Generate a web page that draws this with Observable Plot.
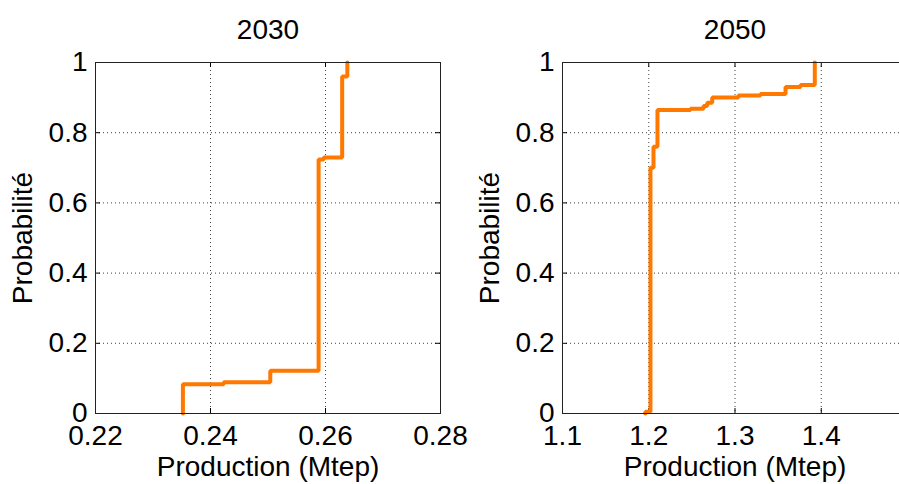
<!DOCTYPE html>
<html>
<head>
<meta charset="utf-8">
<script src="https://cdn.jsdelivr.net/npm/d3@7"></script>
<script src="https://cdn.jsdelivr.net/npm/@observablehq/plot@0.6"></script>
<style>
  html, body { margin: 0; padding: 0; background: #fff; overflow: hidden; }
  #wrap { position: relative; width: 899px; height: 484px; overflow: hidden; background: #fff; }
  #left, #right { position: absolute; top: 0; width: 460px; height: 484px; }
  #left { left: 0; }
  #right { left: 450px; }
  #wrap svg { max-width: none !important; overflow: visible; background: transparent !important; }
</style>
</head>
<body>
<div id="wrap"><div id="left"></div><div id="right"></div></div>
<script>
// ---- Data ----
const titles = ["2030", "2050"];
const xLabel = "Production (Mtep)";
const yLabel = "Probabilité";

// 2030 empirical CDF (step-after points)
const x2030 = [0.2352, 0.2352, 0.2423, 0.2504, 0.2588, 0.2597, 0.2629, 0.2638];
const p2030 = [0.000, 0.083, 0.089, 0.122, 0.724, 0.729, 0.960, 1.000];

// 2050 empirical CDF (step-after points)
const x2050 = [1.1960, 1.1960, 1.2020, 1.2055, 1.2101, 1.2484, 1.2635, 1.2678, 1.2736, 1.3040, 1.3296, 1.3586, 1.3760, 1.3925];
const p2050 = [0.000, 0.005, 0.700, 0.760, 0.865, 0.868, 0.876, 0.885, 0.900, 0.906, 0.910, 0.930, 0.936, 1.000];

const xDomain2030 = [0.22, 0.28];
const xTicks2030 = [0.22, 0.24, 0.26, 0.28];
const xTickLabels2030 = ["0.22", "0.24", "0.26", "0.28"];

const xDomain2050 = [1.1, 1.5];
const xTicks2050 = [1.1, 1.2, 1.3, 1.4];
const xTickLabels2050 = ["1.1", "1.2", "1.3", "1.4"];

const yTicks = [0, 0.2, 0.4, 0.6, 0.8, 1];
const yTickLabels = ["0", "0.2", "0.4", "0.6", "0.8", "1"];

// ---- Drawing ----
const FONT = "Liberation Sans, Arial, sans-serif";
const H = 484, TOP = 62, BOTTOM = 71;
const FRAME_H = H - TOP - BOTTOM;   // 351
const FRAME_W = 345;
const ORANGE = "#ff7800";

function panel({title, xs, ps, domain, ticks, tickLabels, marginLeft, width}) {
  const data = xs.map((x, i) => ({x, p: ps[i]}));
  const inner = ticks.filter(t => t > domain[0] + 1e-9 && t < domain[1] - 1e-9);
  const innerY = yTicks.filter(t => t > 0 && t < 1);
  const marginRight = width - marginLeft - FRAME_W;
  const fmtX = d => tickLabels[ticks.findIndex(t => Math.abs(t - d) < 1e-9)];
  const fmtY = d => yTickLabels[yTicks.findIndex(t => Math.abs(t - d) < 1e-9)];
  return Plot.plot({
    width, height: H,
    marginLeft, marginRight, marginTop: TOP, marginBottom: BOTTOM,
    style: {fontFamily: FONT, background: "transparent", color: "#000", overflow: "visible"},
    x: {domain, ticks, tickFormat: fmtX},
    y: {domain: [0, 1], ticks: yTicks, tickFormat: fmtY},
    marks: [
      Plot.ruleX(inner, {stroke: "#000", strokeOpacity: 0.75, strokeDasharray: "1,3"}),
      Plot.ruleY(innerY, {stroke: "#000", strokeOpacity: 0.75, strokeDasharray: "1,3"}),
      // inward ticks
      Plot.ruleX(ticks, {stroke: "#000", insetTop: FRAME_H - 5}),
      Plot.ruleX(ticks, {stroke: "#000", insetBottom: FRAME_H - 5}),
      Plot.ruleY(yTicks, {stroke: "#000", insetRight: FRAME_W - 5}),
      Plot.ruleY(yTicks, {stroke: "#000", insetLeft: FRAME_W - 5}),
      Plot.line(data, {x: "x", y: "p", curve: "step-after", stroke: ORANGE, strokeWidth: 4, strokeLinejoin: "miter"}),
      Plot.frame({stroke: "#222"}),
      Plot.axisX({ticks, tickSize: 0, tickPadding: 12, fontSize: 28, label: null, tickFormat: fmtX}),
      Plot.axisY({ticks: yTicks, tickSize: 0, tickPadding: 8, fontSize: 28, label: null, tickFormat: fmtY}),
      Plot.text([title], {frameAnchor: "top", dy: -32, fontSize: 28, lineAnchor: "middle", fill: "#000"}),
      Plot.text([xLabel], {frameAnchor: "bottom", dy: 54, fontSize: 28, lineAnchor: "middle", fill: "#000"}),
      Plot.text([yLabel], {frameAnchor: "left", dx: -72, rotate: -90, fontSize: 28, lineAnchor: "middle", textAnchor: "middle", fill: "#000"})
    ]
  });
}

document.getElementById("left").append(panel({
  title: titles[0], xs: x2030, ps: p2030, domain: xDomain2030,
  ticks: xTicks2030, tickLabels: xTickLabels2030, marginLeft: 95, width: 460
}));
document.getElementById("right").append(panel({
  title: titles[1], xs: x2050, ps: p2050, domain: xDomain2050,
  ticks: xTicks2050, tickLabels: xTickLabels2050, marginLeft: 112, width: 460
}));
</script>
</body>
</html>
